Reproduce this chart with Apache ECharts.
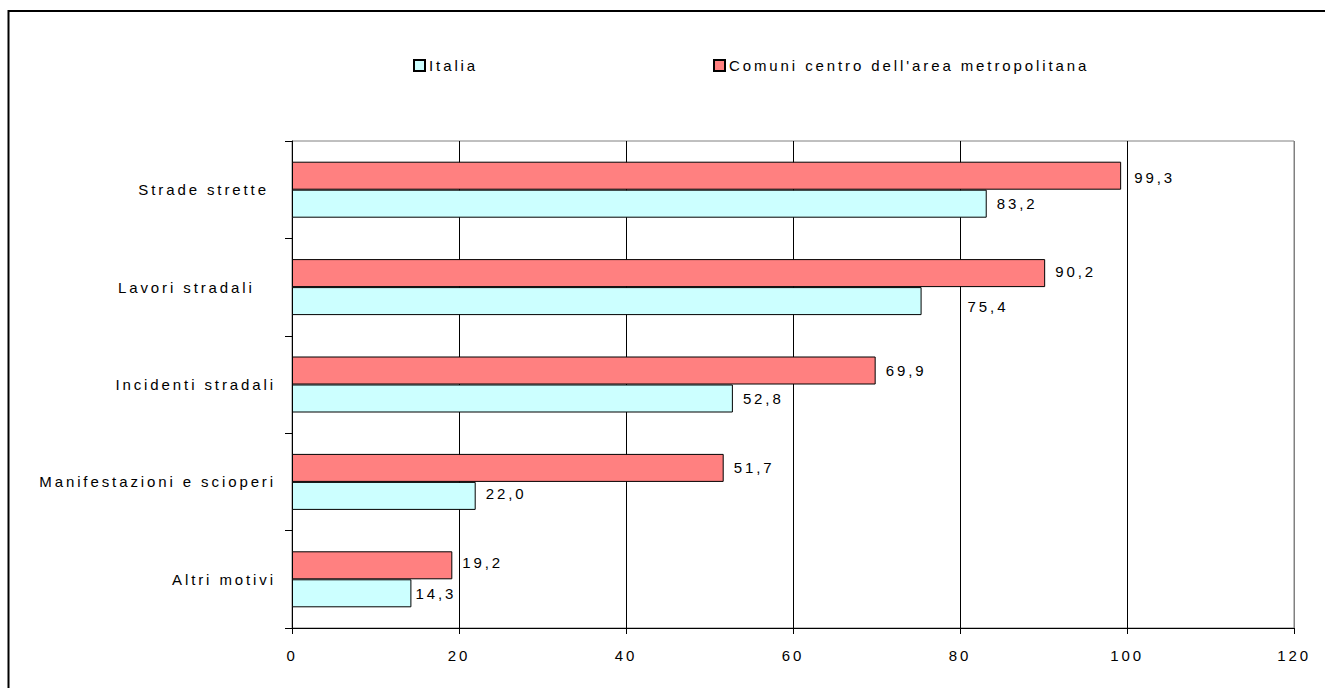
<!DOCTYPE html>
<html>
<head>
<meta charset="utf-8">
<script src="https://cdn.jsdelivr.net/npm/echarts@6/dist/echarts.min.js"></script>
<style>
  html, body { margin: 0; padding: 0; background: #fff; }
  #chart { width: 1325px; height: 688px; }
  /* wide letter spacing for every label of the chart */
  #chart text { letter-spacing: 2.9px; white-space: pre; }
</style>
</head>
<body>
<div id="chart"></div>
<script>
// Categories (top to bottom)
const categories = ['Strade strette ', 'Lavori stradali   ', 'Incidenti stradali', 'Manifestazioni e scioperi', 'Altri motivi'];
// Percent values per series
const italia = [83.2, 75.4, 52.8, 22.0, 14.3];
const comuni = [99.3, 90.2, 69.9, 51.7, 19.2];
// Value-axis ticks
const xTicks = [0, 20, 40, 60, 80, 100, 120];

const FONT = "'Liberation Sans', Arial, sans-serif";
const FS = 15;
const fmt = v => v.toFixed(1).replace('.', ',');

const chart = echarts.init(document.getElementById('chart'), null, { renderer: 'svg' });

// per-item label tweaks (Excel-style placement)
const italiaData = italia.map((v, i) => {
  const d = { value: v };
  if (i === 1) d.label = { offset: [36, 5] };
  if (i === 3) d.label = { offset: [0, -2] };
  if (i === 4) d.label = { distance: 4 };
  return d;
});
const comuniData = comuni.map((v, i) => {
  const d = { value: v };
  if (i === 0) d.label = { offset: [3, 2] };
  if (i === 1) d.label = { offset: [0, -2] };
  if (i === 4) d.label = { offset: [0, -3] };
  return d;
});

const labelStyle = {
  show: true,
  position: 'right',
  distance: 10,
  color: '#000',
  fontSize: FS,
  fontFamily: FONT,
  formatter: p => fmt(p.value)
};

chart.setOption({
  animation: false,
  backgroundColor: '#fff',
  textStyle: { fontFamily: FONT, color: '#000' },
  graphic: [{
    type: 'rect',
    shape: { x: 8.5, y: 11, width: 1400, height: 800 },
    style: { fill: 'none', stroke: '#000', lineWidth: 2 },
    silent: true
  }],
  legend: [{
    data: ['Italia'],
    left: 408,
    top: 53,
    itemWidth: 11,
    itemHeight: 11,
    itemGap: 6,
    icon: 'rect',
    textStyle: { fontSize: FS, fontFamily: FONT, color: '#000', padding: [0, 0, 0, -1] }
  }, {
    data: ['Comuni centro dell\'area metropolitana'],
    left: 708,
    top: 53,
    itemWidth: 11,
    itemHeight: 11,
    icon: 'rect',
    textStyle: { fontSize: FS, fontFamily: FONT, color: '#000', padding: [0, 0, 0, -1] }
  }],
  grid: {
    left: 292,
    right: 31,
    top: 141,
    bottom: 60,
    show: true,
    borderColor: '#808080',
    borderWidth: 1,
    containLabel: false
  },
  xAxis: {
    type: 'value',
    min: xTicks[0],
    max: xTicks[xTicks.length - 1],
    interval: 20,
    axisLine: { show: true, lineStyle: { color: '#000', width: 1 } },
    axisTick: { show: true, length: 6, lineStyle: { color: '#000' } },
    axisLabel: { fontSize: FS, fontFamily: FONT, color: '#000', margin: 20 },
    splitLine: {
      show: true,
      lineStyle: { color: ['#000', '#000', '#000', '#000', '#000', '#000', '#808080'], width: 1 }
    }
  },
  yAxis: {
    type: 'category',
    data: categories,
    inverse: true,
    axisLine: { show: true, lineStyle: { color: '#000', width: 1 } },
    axisTick: { show: true, length: 7, alignWithLabel: false, lineStyle: { color: '#000' } },
    axisLabel: { fontSize: FS, fontFamily: FONT, color: '#000', margin: 16 },
    splitLine: { show: false }
  },
  // red series first so it sits above the cyan one in each band
  series: [{
    name: 'Comuni centro dell\'area metropolitana',
    type: 'bar',
    data: comuniData,
    barWidth: 28,
    barGap: '0%',
    itemStyle: { color: '#FF8080', borderColor: '#000', borderWidth: 1 },
    label: labelStyle
  }, {
    name: 'Italia',
    type: 'bar',
    data: italiaData,
    barWidth: 28,
    barGap: '0%',
    itemStyle: { color: '#CCFFFF', borderColor: '#000', borderWidth: 1 },
    label: labelStyle
  }]
});
</script>
</body>
</html>
